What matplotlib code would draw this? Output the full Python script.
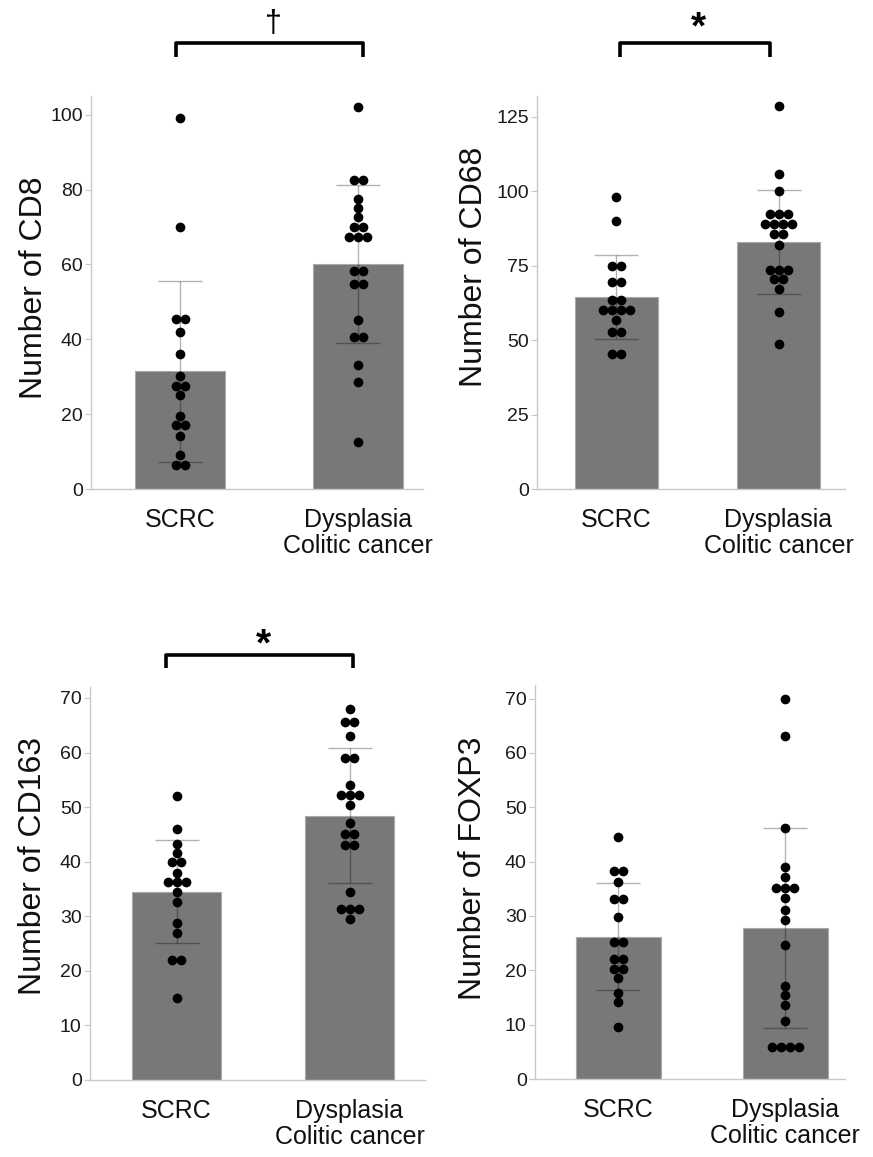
import matplotlib
matplotlib.use("Agg")
import matplotlib.pyplot as plt
from matplotlib import font_manager
from matplotlib.transforms import blended_transform_factory
import numpy as np

# ---- data -------------------------------------------------------------
groups = ["SCRC", "Dysplasia\nColitic cancer"]

cd8_scrc = [99.0, 70.1, 45.5, 45.5, 42.0, 36.1, 30.1, 27.6, 27.6, 25.1,
            19.6, 17.1, 17.1, 14.1, 9.1, 6.5, 6.5]
cd8_dys = [102.0, 82.5, 82.5, 77.6, 75.1, 72.6, 70.1, 70.1, 67.3, 67.3, 67.3,
           58.2, 58.2, 54.9, 54.9, 45.1, 40.5, 40.5, 33.0, 28.5, 12.6]
cd8_mean = [31.4, 60.1]
cd8_sd = [24.3, 21.0]

cd68_scrc = [98.0, 89.9, 75.0, 75.0, 69.6, 69.6, 63.5, 63.5, 60.0, 60.0,
             60.0, 60.0, 56.6, 52.9, 52.9, 45.5, 45.5]
cd68_dys = [128.5, 105.8, 100.0, 92.2, 92.2, 92.2, 89.0, 89.0, 89.0, 89.0,
            85.8, 85.8, 82.1, 73.7, 73.7, 73.7, 70.6, 70.6, 67.2, 59.3, 48.7]
cd68_mean = [64.4, 83.0]
cd68_sd = [14.15, 17.35]

cd163_scrc = [52.1, 46.0, 43.3, 41.6, 39.9, 39.9, 38.0, 36.3, 36.3, 36.3,
              34.5, 32.6, 28.7, 27.0, 21.9, 21.9, 15.0]
cd163_dys = [68.0, 65.6, 65.6, 63.0, 59.0, 59.0, 54.0, 52.2, 52.2, 52.2, 50.4,
             47.1, 45.0, 45.0, 43.1, 43.1, 34.4, 31.4, 31.4, 31.4, 29.5]
cd163_mean = [34.5, 48.4]
cd163_sd = [9.4, 12.35]

foxp3_scrc = [44.5, 38.2, 38.2, 36.2, 33.1, 33.1, 29.9, 25.2, 25.2, 22.0,
              22.0, 20.3, 20.3, 18.5, 15.8, 14.1, 9.5]
foxp3_dys = [69.9, 63.2, 46.2, 39.1, 37.1, 35.1, 35.1, 35.1, 33.3, 31.1, 29.3,
             24.7, 17.2, 15.4, 13.6, 10.7, 5.9, 5.9, 5.9, 5.9]
foxp3_mean = [26.2, 27.8]
foxp3_sd = [9.85, 18.4]

# ---- fonts ------------------------------------------------------------
installed = {f.name for f in font_manager.fontManager.ttflist}
main_font = "Liberation Sans" if "Liberation Sans" in installed else "DejaVu Sans"
if "Liberation Sans Narrow" in installed:
    tick_font, tick_size = "Liberation Sans Narrow", 15.5
else:
    tick_font, tick_size = main_font, 14
plt.rcParams["font.family"] = [main_font, "DejaVu Sans"]

W, H = 873, 1157
fig = plt.figure(figsize=(W / 100, H / 100), dpi=100)

BAR_COLOR = "#787878"
SPINE_COLOR = "#c8c8c8"


def px_axes(left, top, right, bottom):
    return fig.add_axes([left / W, 1 - bottom / H, (right - left) / W, (bottom - top) / H])


def panel(rect, scrc, dys, means, sds, ylabel, ymax, yticks, xlim, label_xy):
    ax = px_axes(*rect)
    x = np.arange(len(groups))
    ax.bar(x, means, width=0.51, color=BAR_COLOR, edgecolor="#a9a9a9",
           linewidth=0.8, zorder=1)
    ax.errorbar(x, means, yerr=sds, fmt="none", ecolor=(0, 0, 0, 0.3),
                elinewidth=1.0, capsize=15.5, capthick=1.0, zorder=2)
    ax.set_xlim(*xlim)
    ax.set_ylim(0, ymax)

    # horizontal offsets for tied values (dots side by side)
    width_px = rect[2] - rect[0]
    step = 9.0 / (width_px / (xlim[1] - xlim[0]))
    for xi, vals in zip(x, (scrc, dys)):
        vals = np.asarray(vals)
        xs = np.empty_like(vals)
        for v in np.unique(vals):
            idx = np.where(vals == v)[0]
            n = len(idx)
            xs[idx] = xi + (np.arange(n) - (n - 1) / 2) * step
        ax.plot(xs, vals, "o", color="black", markersize=7.0,
                markeredgewidth=0, zorder=3, clip_on=False)

    for side in ("top", "right"):
        ax.spines[side].set_visible(False)
    for side in ("left", "bottom"):
        ax.spines[side].set_color(SPINE_COLOR)
        ax.spines[side].set_linewidth(1.0)
    ax.set_yticks(yticks)
    ax.set_yticklabels([str(t) for t in yticks], fontfamily=tick_font,
                       fontsize=tick_size, color="#1a1a1a")
    ax.tick_params(axis="y", length=4, width=0.8, color=SPINE_COLOR, pad=2)
    ax.set_xticks(x)
    ax.set_xticklabels(groups, fontsize=18, color="#111111", linespacing=1.1)
    ax.tick_params(axis="x", length=0, pad=14)
    fig.text(label_xy[0] / W, 1 - label_xy[1] / H, ylabel, rotation=90,
             ha="center", va="center", fontsize=23, color="#111111")
    return ax


def bracket(ax, x0, x1, y_top, y_bot, mark, mark_y, mark_size, weight="normal"):
    tr = blended_transform_factory(ax.transData, ax.transAxes)
    ax.plot([x0, x0, x1, x1], [y_bot, y_top, y_top, y_bot], color="black",
            lw=2.6, transform=tr, clip_on=False, solid_joinstyle="round",
            solid_capstyle="butt")
    ax.text((x0 + x1) / 2 + 0.02, mark_y, mark, transform=tr, ha="center",
            va="center", fontsize=mark_size, color="black", fontweight=weight)


ax1 = panel((91, 96, 423, 489), cd8_scrc, cd8_dys, cd8_mean, cd8_sd,
            "Number of CD8", 105, [0, 20, 40, 60, 80, 100], (-0.5, 1.365), (34, 288))
ax2 = panel((537, 96, 845, 489), cd68_scrc, cd68_dys, cd68_mean, cd68_sd,
            "Number of CD68", 132, [0, 25, 50, 75, 100, 125], (-0.49, 1.41), (474, 267))
ax3 = panel((90, 687, 425, 1080), cd163_scrc, cd163_dys, cd163_mean, cd163_sd,
            "Number of CD163", 72, [0, 10, 20, 30, 40, 50, 60, 70], (-0.5, 1.436), (33, 866))
ax4 = panel((535, 685, 845, 1079), foxp3_scrc, foxp3_dys, foxp3_mean, foxp3_sd,
            "Number of FOXP3", 72.5, [0, 10, 20, 30, 40, 50, 60, 70], (-0.5, 1.36), (473, 868))

bracket(ax1, -0.02, 1.03, (489 - 43) / 393, (489 - 57) / 393, "\u2020",
        (489 - 24) / 393, 22)
bracket(ax2, 0.025, 0.95, (489 - 43) / 393, (489 - 57) / 393, "*",
        (489 - 28) / 393, 28, "bold")
bracket(ax3, -0.06, 1.02, (1080 - 655) / 393, (1080 - 668) / 393, "*",
        (1080 - 645) / 393, 28, "bold")

fig.savefig("out.png", dpi=100, facecolor="white")
